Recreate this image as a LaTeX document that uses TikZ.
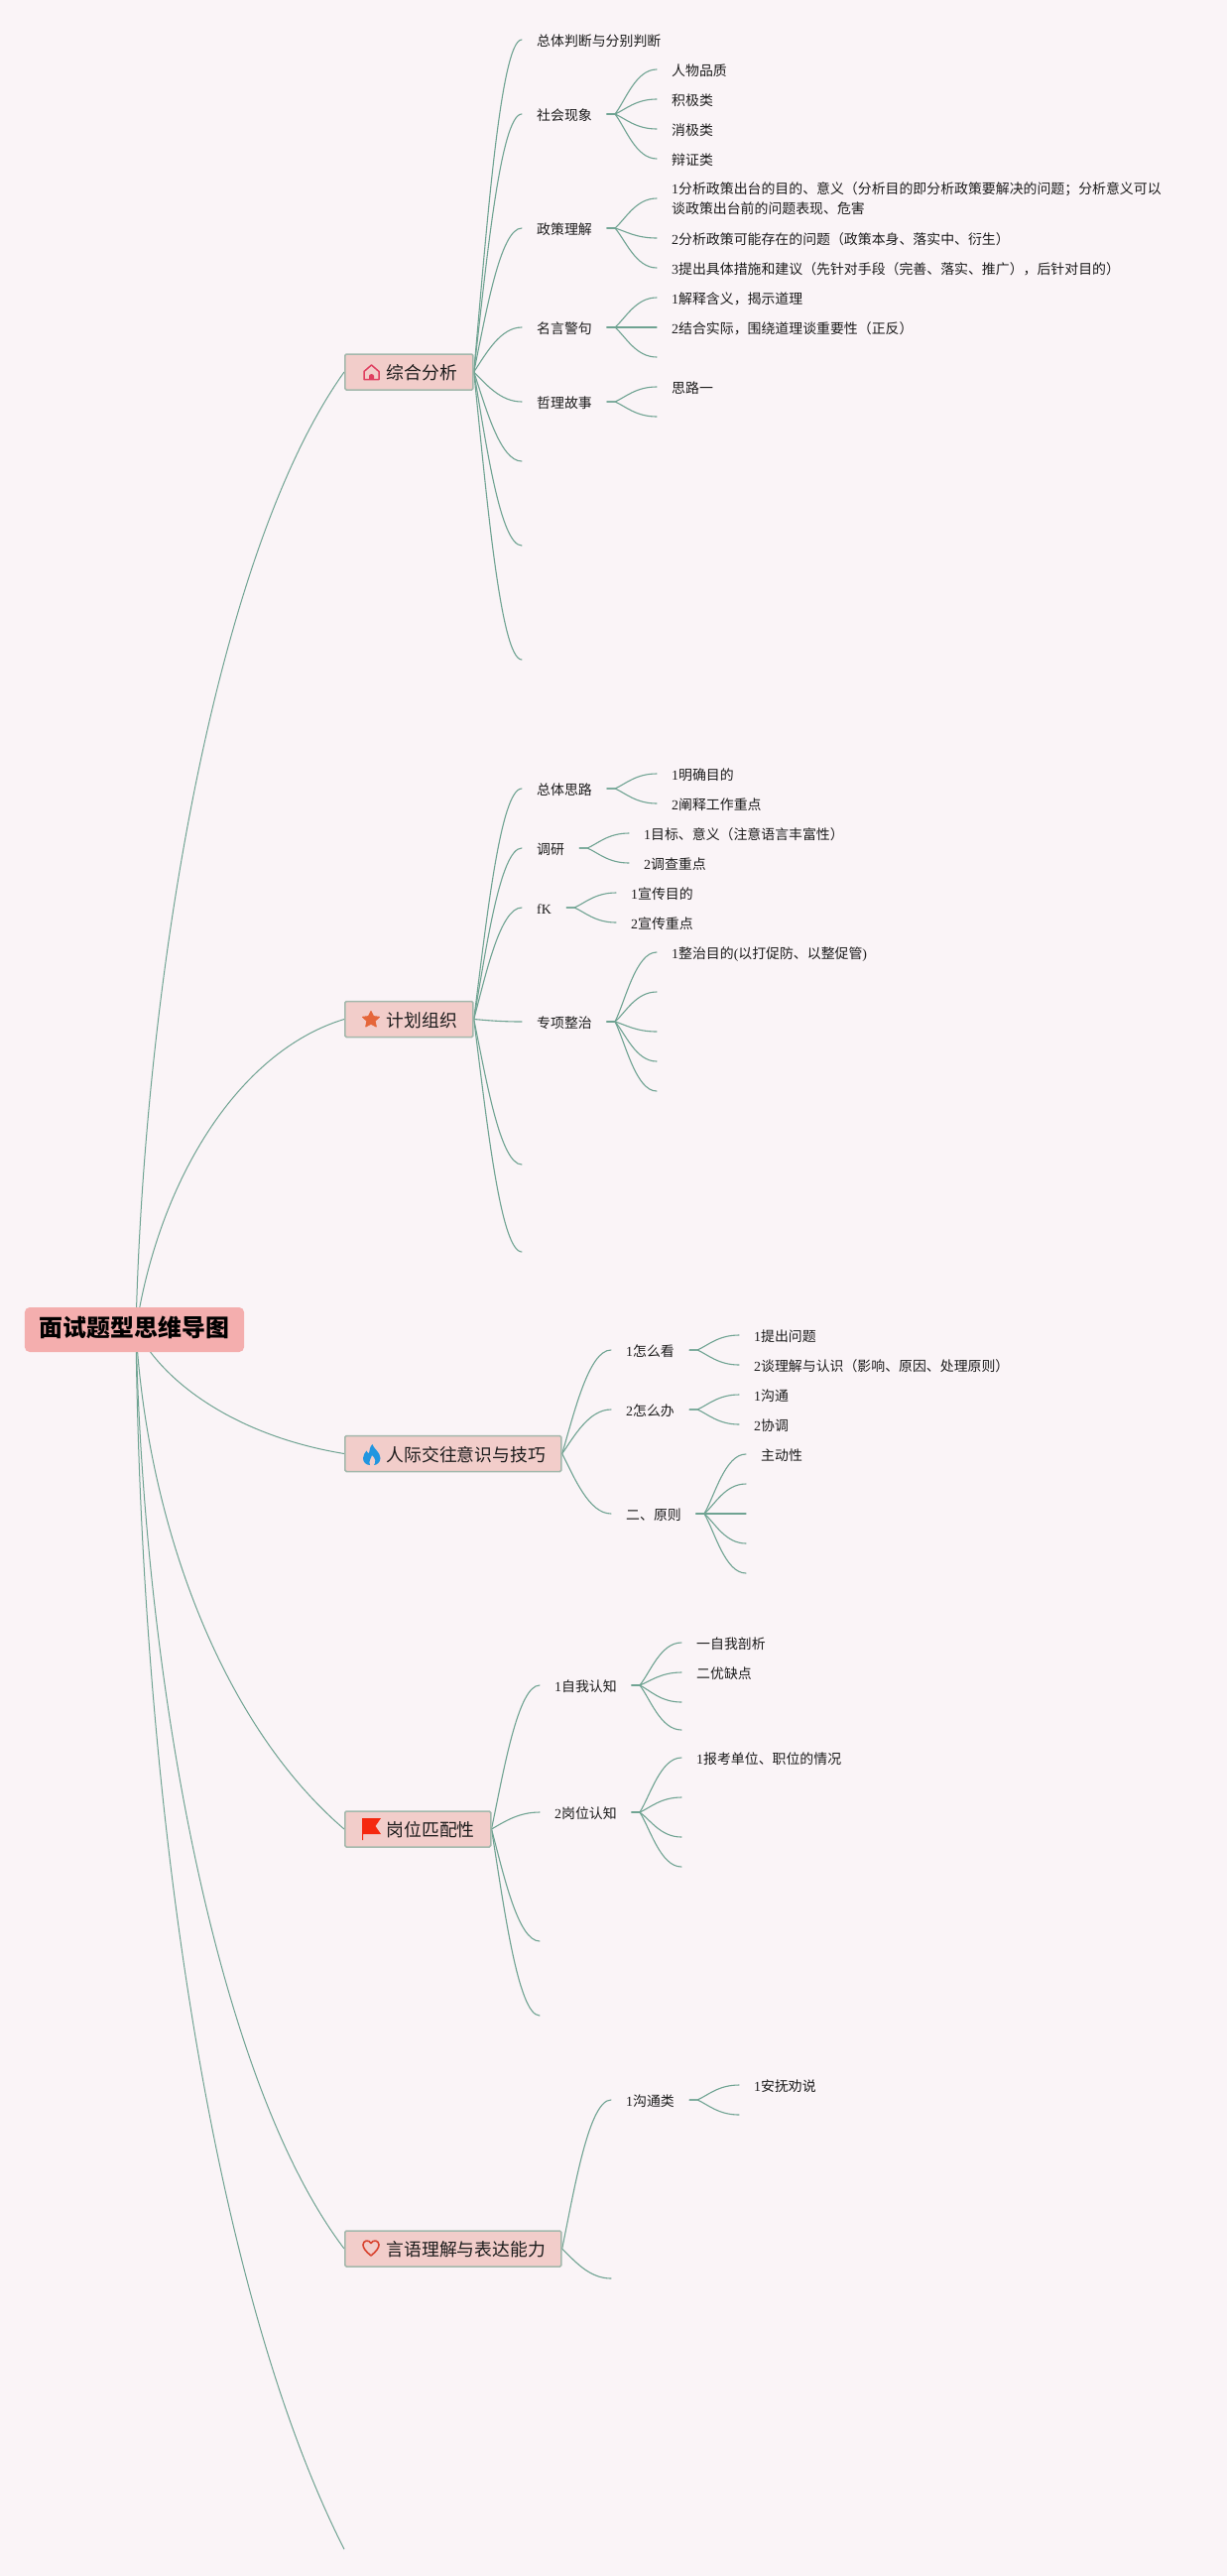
\documentclass[tikz,border=0pt]{standalone}
\usepackage{fontspec}
\setmainfont{Noto Sans CJK SC}
\newfontfamily\latf{Liberation Serif}
\newcommand\lat[1]{{\latf #1}}
\usetikzlibrary{calc,backgrounds}
\definecolor{bgc}{HTML}{FAF4F7}
\definecolor{linkc}{HTML}{6FA392}
\definecolor{boxf}{HTML}{F2CDCA}
\definecolor{boxd}{HTML}{A3B8AC}
\definecolor{rootf}{HTML}{F4AEAE}
\definecolor{txt}{HTML}{1C1C1C}
\definecolor{iconhouse}{RGB}{223,63,96}
\definecolor{iconstar}{RGB}{229,102,58}
\definecolor{iconflame}{RGB}{33,150,224}
\definecolor{iconflag}{RGB}{245,40,15}
\definecolor{iconheart}{RGB}{216,67,47}
\tikzset{
  x=1pt,y=-1pt,
  link/.style={draw=linkc,line width=1.1pt,line cap=round},
  rootlink/.style={draw=linkc,line width=1pt},
  tnode/.style={anchor=west,inner xsep=15pt,inner ysep=0pt,text=txt,font=\fontsize{13.9}{20}\selectfont,text height=13.6pt,text depth=1pt},
  tmulti/.style={anchor=west,inner xsep=15pt,inner ysep=0pt,text=txt,font=\fontsize{13.9}{20}\selectfont,align=left},
  topic/.style={anchor=west,draw=boxd,fill=boxf,line width=1.5pt,rounded corners=1.5pt,inner xsep=16pt,inner ysep=0pt,minimum height=36pt,text=txt,font=\fontsize{17.8}{20}\selectfont,text height=16pt,text depth=0.4pt},
  rootnode/.style={fill=rootf,rounded corners=5pt,inner xsep=15pt,inner ysep=0pt,minimum height=45pt,text=black,font=\fontsize{23.9}{28}\selectfont\bfseries,text height=16pt,text depth=1.8pt},
}
% level 2 connector: parent anchor to child anchor
\newcommand\cn[2]{\draw[link] let \p1=(#1),\p2=(#2) in (\p1) .. controls ({\x1+0.25*(\x2-\x1)},{\y1+0.4*(\y2-\y1)}) and ({\x1+0.55*(\x2-\x1)},\y2) .. (\p2);}
% level 3 connector: a short stub, then the curve
\newcommand\kn[2]{\draw[link] let \p1=(#1),\p2=(#2),\p3=($(\p1)+(8pt,0pt)$) in (\p1) -- (\p3) .. controls ({\x3+0.25*(\x2-\x3)},{\y3+0.3*(\y2-\y3)}) and ({\x3+0.5*(\x2-\x3)},\y2) .. (\p2);}
\newcommand\Icon{\hspace*{26pt}}
\begin{document}
\begin{tikzpicture}
\useasboundingbox (0,0) rectangle (1237,2597);
% root and topics
\node[rootnode] (root) at (135.5,1340.5) {面试题型思维导图};
\coordinate (rootout) at (137,1340);
\node[topic] (A) at (347,375) {\Icon 综合分析};
\node[topic] (B) at (347,1027.5) {\Icon 计划组织};
\node[topic] (C) at (347,1465.5) {\Icon 人际交往意识与技巧};
\node[topic] (D) at (347,1844) {\Icon 岗位匹配性};
\node[topic] (E) at (347,2267) {\Icon 言语理解与表达能力};
\coordinate (F) at (347,2570);
% A
\node[tnode] (a1) at (526,40) {总体判断与分别判断};
\node[tnode] (a2) at (526,115) {社会现象};
\node[tnode] (a2k1) at (662,70) {人物品质};
\node[tnode] (a2k2) at (662,100) {积极类};
\node[tnode] (a2k3) at (662,130) {消极类};
\node[tnode] (a2k4) at (662,160) {辩证类};
\node[tnode] (a3) at (526,230) {政策理解};
\node[tmulti] (a3k1) at (662,200) {\lat{1}分析政策出台的目的、意义（分析目的即分析政策要解决的问题；分析意义可以\\谈政策出台前的问题表现、危害};
\node[tnode] (a3k2) at (662,240) {\lat{2}分析政策可能存在的问题（政策本身、落实中、衍生）};
\node[tnode] (a3k3) at (662,270) {\lat{3}提出具体措施和建议（先针对手段（完善、落实、推广），后针对目的）};
\node[tnode] (a4) at (526,330) {名言警句};
\node[tnode] (a4k1) at (662,300) {\lat{1}解释含义，揭示道理};
\node[tnode] (a4k2) at (662,330) {\lat{2}结合实际，围绕道理谈重要性（正反）};
\coordinate (a4k3) at (662,360);
\node[tnode] (a5) at (526,405) {哲理故事};
\node[tnode] (a5k1) at (662,390) {思路一};
\coordinate (a5k2) at (662,420);
\coordinate (a6) at (526,465);
\coordinate (a7) at (526,550);
\coordinate (a8) at (526,665);
% B
\node[tnode] (b1) at (526,795) {总体思路};
\node[tnode] (b1k1) at (662,780) {\lat{1}明确目的};
\node[tnode] (b1k2) at (662,810) {\lat{2}阐释工作重点};
\node[tnode] (b2) at (526,855) {调研};
\node[tnode] (b2k1) at (634,840) {\lat{1}目标、意义（注意语言丰富性）};
\node[tnode] (b2k2) at (634,870) {\lat{2}调查重点};
\node[tnode] (b3) at (526,915) {\lat{fK}};
\node[tnode] (b3k1) at (621,900) {\lat{1}宣传目的};
\node[tnode] (b3k2) at (621,930) {\lat{2}宣传重点};
\node[tnode] (b4) at (526,1030) {专项整治};
\node[tnode] (b4k1) at (662,960) {\lat{1}整治目的\lat{(}以打促防、以整促管\lat{)}};
\coordinate (b4k2) at (662,1000);
\coordinate (b4k3) at (662,1040);
\coordinate (b4k4) at (662,1070);
\coordinate (b4k5) at (662,1100);
\coordinate (b5) at (526,1174);
\coordinate (b6) at (526,1262);
% C
\node[tnode] (c1) at (616,1361) {\lat{1}怎么看};
\node[tnode] (c1k1) at (745,1346) {\lat{1}提出问题};
\node[tnode] (c1k2) at (745,1376) {\lat{2}谈理解与认识（影响、原因、处理原则）};
\node[tnode] (c2) at (616,1421) {\lat{2}怎么办};
\node[tnode] (c2k1) at (745,1406) {\lat{1}沟通};
\node[tnode] (c2k2) at (745,1436) {\lat{2}协调};
\node[tnode] (c3) at (616,1526) {二、原则};
\node[tnode] (c3k1) at (752,1466) {主动性};
\coordinate (c3k2) at (752,1496);
\coordinate (c3k3) at (752,1526);
\coordinate (c3k4) at (752,1556);
\coordinate (c3k5) at (752,1586);
% D
\node[tnode] (d1) at (544,1699) {\lat{1}自我认知};
\node[tnode] (d1k1) at (687,1656) {一自我剖析};
\node[tnode] (d1k2) at (687,1686) {二优缺点};
\coordinate (d1k3) at (687,1716);
\coordinate (d1k4) at (687,1744);
\node[tnode] (d2) at (544,1827) {\lat{2}岗位认知};
\node[tnode] (d2k1) at (687,1772) {\lat{1}报考单位、职位的情况};
\coordinate (d2k2) at (687,1812);
\coordinate (d2k3) at (687,1852);
\coordinate (d2k4) at (687,1882);
\coordinate (d3) at (544,1957);
\coordinate (d4) at (544,2032);
% E
\node[tnode] (e1) at (616,2117) {\lat{1}沟通类};
\node[tnode] (e1k1) at (745,2102) {\lat{1}安抚劝说};
\coordinate (e1k2) at (745,2132);
\coordinate (e2) at (616,2297);
% icons
\draw[iconhouse,line width=1.5pt,line join=round]
  (367,382.5) -- (367,374.5) -- (374.5,368) -- (382,374.5) -- (382,382.5) -- cycle;
\fill[iconhouse] (372,382) -- (372,379) .. controls (372,376.5) and (377,376.5) .. (377,379) -- (377,382) -- cycle;
\path[draw=iconstar,fill=iconstar,line width=1pt,line join=round]
  (374,1019.5) -- (376.5,1024.6) -- (382.5,1025.3) -- (378,1029.3) -- (379.3,1035) -- (374,1032.2) -- (368.7,1035) -- (370,1029.3) -- (365.5,1025.3) -- (371.5,1024.6) -- cycle;
\fill[iconflame]
  (375.5,1456) .. controls (376,1460) and (383.5,1464) .. (383.5,1470) .. controls (383.5,1474) and (380,1477) .. (377,1477) .. controls (379.5,1474) and (378.5,1470) .. (375,1467) .. controls (374.5,1470) and (371,1473) .. (373,1477) .. controls (369,1477) and (366,1474) .. (366,1470) .. controls (366,1467) and (368,1464.5) .. (369.5,1462.5) .. controls (370,1464) and (371,1465) .. (372,1465) .. controls (372.5,1462) and (373,1458) .. (375.5,1456) -- cycle;
\fill[iconflag]
  (365,1833) -- (384,1833) -- (378.5,1841) -- (384,1849) -- (366,1849) -- (366,1855) -- (365,1855) -- cycle;
\draw[draw=iconheart,line width=1.6pt,line join=round]
  (374,2274) .. controls (369,2270) and (366,2266.5) .. (366,2263) .. controls (366,2258.5) and (372,2257.5) .. (374,2261.5) .. controls (376,2257.5) and (382,2258.5) .. (382,2263) .. controls (382,2266.5) and (379,2270) .. (374,2274) -- cycle;
\begin{scope}[on background layer]
\fill[bgc] (0,0) rectangle (1237,2597);
% root connectors
\draw[rootlink] (rootout) .. controls (145,1000) and (215,560) .. (A.west);
\draw[rootlink] (rootout) .. controls (160,1190) and (240,1060) .. (B.west);
\draw[rootlink] (rootout) .. controls (165,1395) and (240,1448) .. (C.west);
\draw[rootlink] (rootout) .. controls (148,1530) and (220,1735) .. (D.west);
\draw[rootlink] (rootout) .. controls (145,1700) and (220,2100) .. (E.west);
\draw[rootlink] (rootout) .. controls (142,1800) and (210,2300) .. (F);
% A
\cn{A.east}{a1.west}\cn{A.east}{a2.west}\cn{A.east}{a3.west}\cn{A.east}{a4.west}\cn{A.east}{a5.west}
\cn{A.east}{a6}\cn{A.east}{a7}\cn{A.east}{a8}
\kn{a2.east}{a2k1.west}\kn{a2.east}{a2k2.west}\kn{a2.east}{a2k3.west}\kn{a2.east}{a2k4.west}
\kn{a3.east}{a3k1.west}\kn{a3.east}{a3k2.west}\kn{a3.east}{a3k3.west}
\kn{a4.east}{a4k1.west}\kn{a4.east}{a4k2.west}\kn{a4.east}{a4k3}
\kn{a5.east}{a5k1.west}\kn{a5.east}{a5k2}
% B
\cn{B.east}{b1.west}\cn{B.east}{b2.west}\cn{B.east}{b3.west}\cn{B.east}{b4.west}\cn{B.east}{b5}\cn{B.east}{b6}
\kn{b1.east}{b1k1.west}\kn{b1.east}{b1k2.west}
\kn{b2.east}{b2k1.west}\kn{b2.east}{b2k2.west}
\kn{b3.east}{b3k1.west}\kn{b3.east}{b3k2.west}
\kn{b4.east}{b4k1.west}\kn{b4.east}{b4k2}\kn{b4.east}{b4k3}\kn{b4.east}{b4k4}\kn{b4.east}{b4k5}
% C
\cn{C.east}{c1.west}\cn{C.east}{c2.west}\cn{C.east}{c3.west}
\kn{c1.east}{c1k1.west}\kn{c1.east}{c1k2.west}
\kn{c2.east}{c2k1.west}\kn{c2.east}{c2k2.west}
\kn{c3.east}{c3k1.west}\kn{c3.east}{c3k2}\kn{c3.east}{c3k3}\kn{c3.east}{c3k4}\kn{c3.east}{c3k5}
% D
\cn{D.east}{d1.west}\cn{D.east}{d2.west}\cn{D.east}{d3}\cn{D.east}{d4}
\kn{d1.east}{d1k1.west}\kn{d1.east}{d1k2.west}\kn{d1.east}{d1k3}\kn{d1.east}{d1k4}
\kn{d2.east}{d2k1.west}\kn{d2.east}{d2k2}\kn{d2.east}{d2k3}\kn{d2.east}{d2k4}
% E
\cn{E.east}{e1.west}\cn{E.east}{e2}
\kn{e1.east}{e1k1.west}\kn{e1.east}{e1k2}
\end{scope}
\end{tikzpicture}
\end{document}
